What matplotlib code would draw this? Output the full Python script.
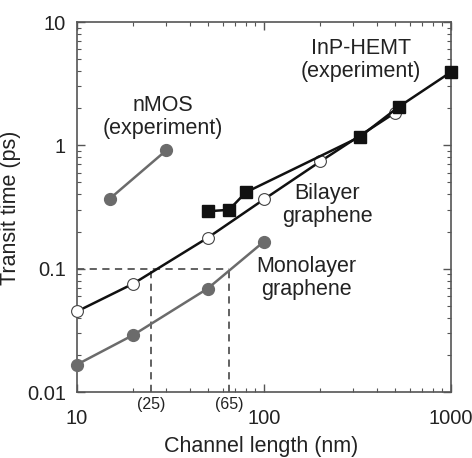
import matplotlib
matplotlib.use("Agg")
import matplotlib.pyplot as plt
from matplotlib.ticker import LogLocator, NullFormatter

plt.rcParams['font.family'] = ['Liberation Sans', 'DejaVu Sans']

nmos_x = [15, 30]
nmos_y = [0.37, 0.91]
bilayer_x = [10, 20, 50, 100, 200, 500]
bilayer_y = [0.045, 0.0756, 0.178, 0.365, 0.74, 1.83]
mono_x = [10, 20, 50, 100]
mono_y = [0.0167, 0.029, 0.069, 0.166]
inp_x = [50, 65, 80, 325, 525, 1000]
inp_y = [0.292, 0.30, 0.416, 1.17, 2.05, 3.93]
guide_x = [25, 65]
guide_labels = ['(25)', '(65)']
guide_y = 0.1
x_ticks = [10, 100, 1000]
x_ticklabels = ['10', '100', '1000']
y_ticks = [0.01, 0.1, 1, 10]
y_ticklabels = ['0.01', '0.1', '1', '10']

fig = plt.figure(figsize=(4.72, 4.58), dpi=100)
ax = fig.add_axes([77/472, 1 - 392/458, (451-77)/472, (392-22)/458])
ax.set_xscale('log')
ax.set_yscale('log')
ax.set_xlim(10, 1000)
ax.set_ylim(0.01, 10)

gray = '#6b6b6b'
dash = '#555555'
ax.plot([10, guide_x[1]], [guide_y, guide_y], ls=(0, (4, 3)), color=dash, lw=1.3, zorder=1)
for gx in guide_x:
    ax.plot([gx, gx], [0.01, guide_y], ls=(0, (4, 3)), color=dash, lw=1.3, zorder=1)

ax.plot(mono_x, mono_y, '-o', color=gray, lw=1.8, ms=8.5, mfc=gray, mec=gray, zorder=3, clip_on=False)
ax.plot(nmos_x, nmos_y, '-o', color=gray, lw=1.8, ms=8.5, mfc=gray, mec=gray, zorder=3)
ax.plot(bilayer_x, bilayer_y, '-o', color='#111111', lw=1.8, ms=8.5, mfc='white', mec='#444444', mew=0.8, zorder=3, clip_on=False)
ax.plot(inp_x, inp_y, '-s', color='#111111', lw=1.8, ms=8.5, mfc='#111111', mec='#111111', zorder=4, clip_on=False)

fs = 15.5

def txt(x, y, s):
    fig.text(x / 472, 1 - y / 458, s, ha='center', va='center',
             fontsize=fs, linespacing=1.1, color='#222222')

txt(163, 117, 'nMOS\n(experiment)')
txt(361, 60, 'InP-HEMT\n(experiment)')
txt(327, 205, 'Bilayer\ngraphene')
txt(306, 278, 'Monolayer\ngraphene')

for gx, lab in zip(guide_x, guide_labels):
    ax.text(gx, 0.0091, lab, ha='center', va='top', fontsize=11.5, color='#222222')

ax.set_xticks(x_ticks)
ax.set_xticklabels(x_ticklabels)
ax.set_yticks(y_ticks)
ax.set_yticklabels(y_ticklabels)
ax.xaxis.set_minor_locator(LogLocator(base=10, subs=range(2, 10)))
ax.yaxis.set_minor_locator(LogLocator(base=10, subs=range(2, 10)))
ax.xaxis.set_minor_formatter(NullFormatter())
ax.yaxis.set_minor_formatter(NullFormatter())
ax.tick_params(which='both', direction='in', top=True, right=True, color='#555555', labelcolor='#222222')
ax.tick_params(which='major', length=6, width=1, labelsize=14.5)
ax.tick_params(which='minor', length=3, width=0.8)
ax.tick_params(axis='x', which='major', pad=12)
ax.tick_params(axis='y', which='major', pad=8)
for s in ax.spines.values():
    s.set_color('#555555')
    s.set_linewidth(1.2)

ax.set_xlabel('Channel length (nm)', fontsize=15.5, labelpad=0, color='#222222')
ax.xaxis.set_label_coords(0.5 + ((261 - 77) - 187) / 374, -(436 - 392) / 370)
ax.set_ylabel('Transit time (ps)', fontsize=15.5, labelpad=0, color='#222222')
ax.yaxis.set_label_coords(-(77 - 21) / 374, 0.5 + (370/2 - (208 - 22)) / 370)

fig.savefig('out.png', dpi=100)
